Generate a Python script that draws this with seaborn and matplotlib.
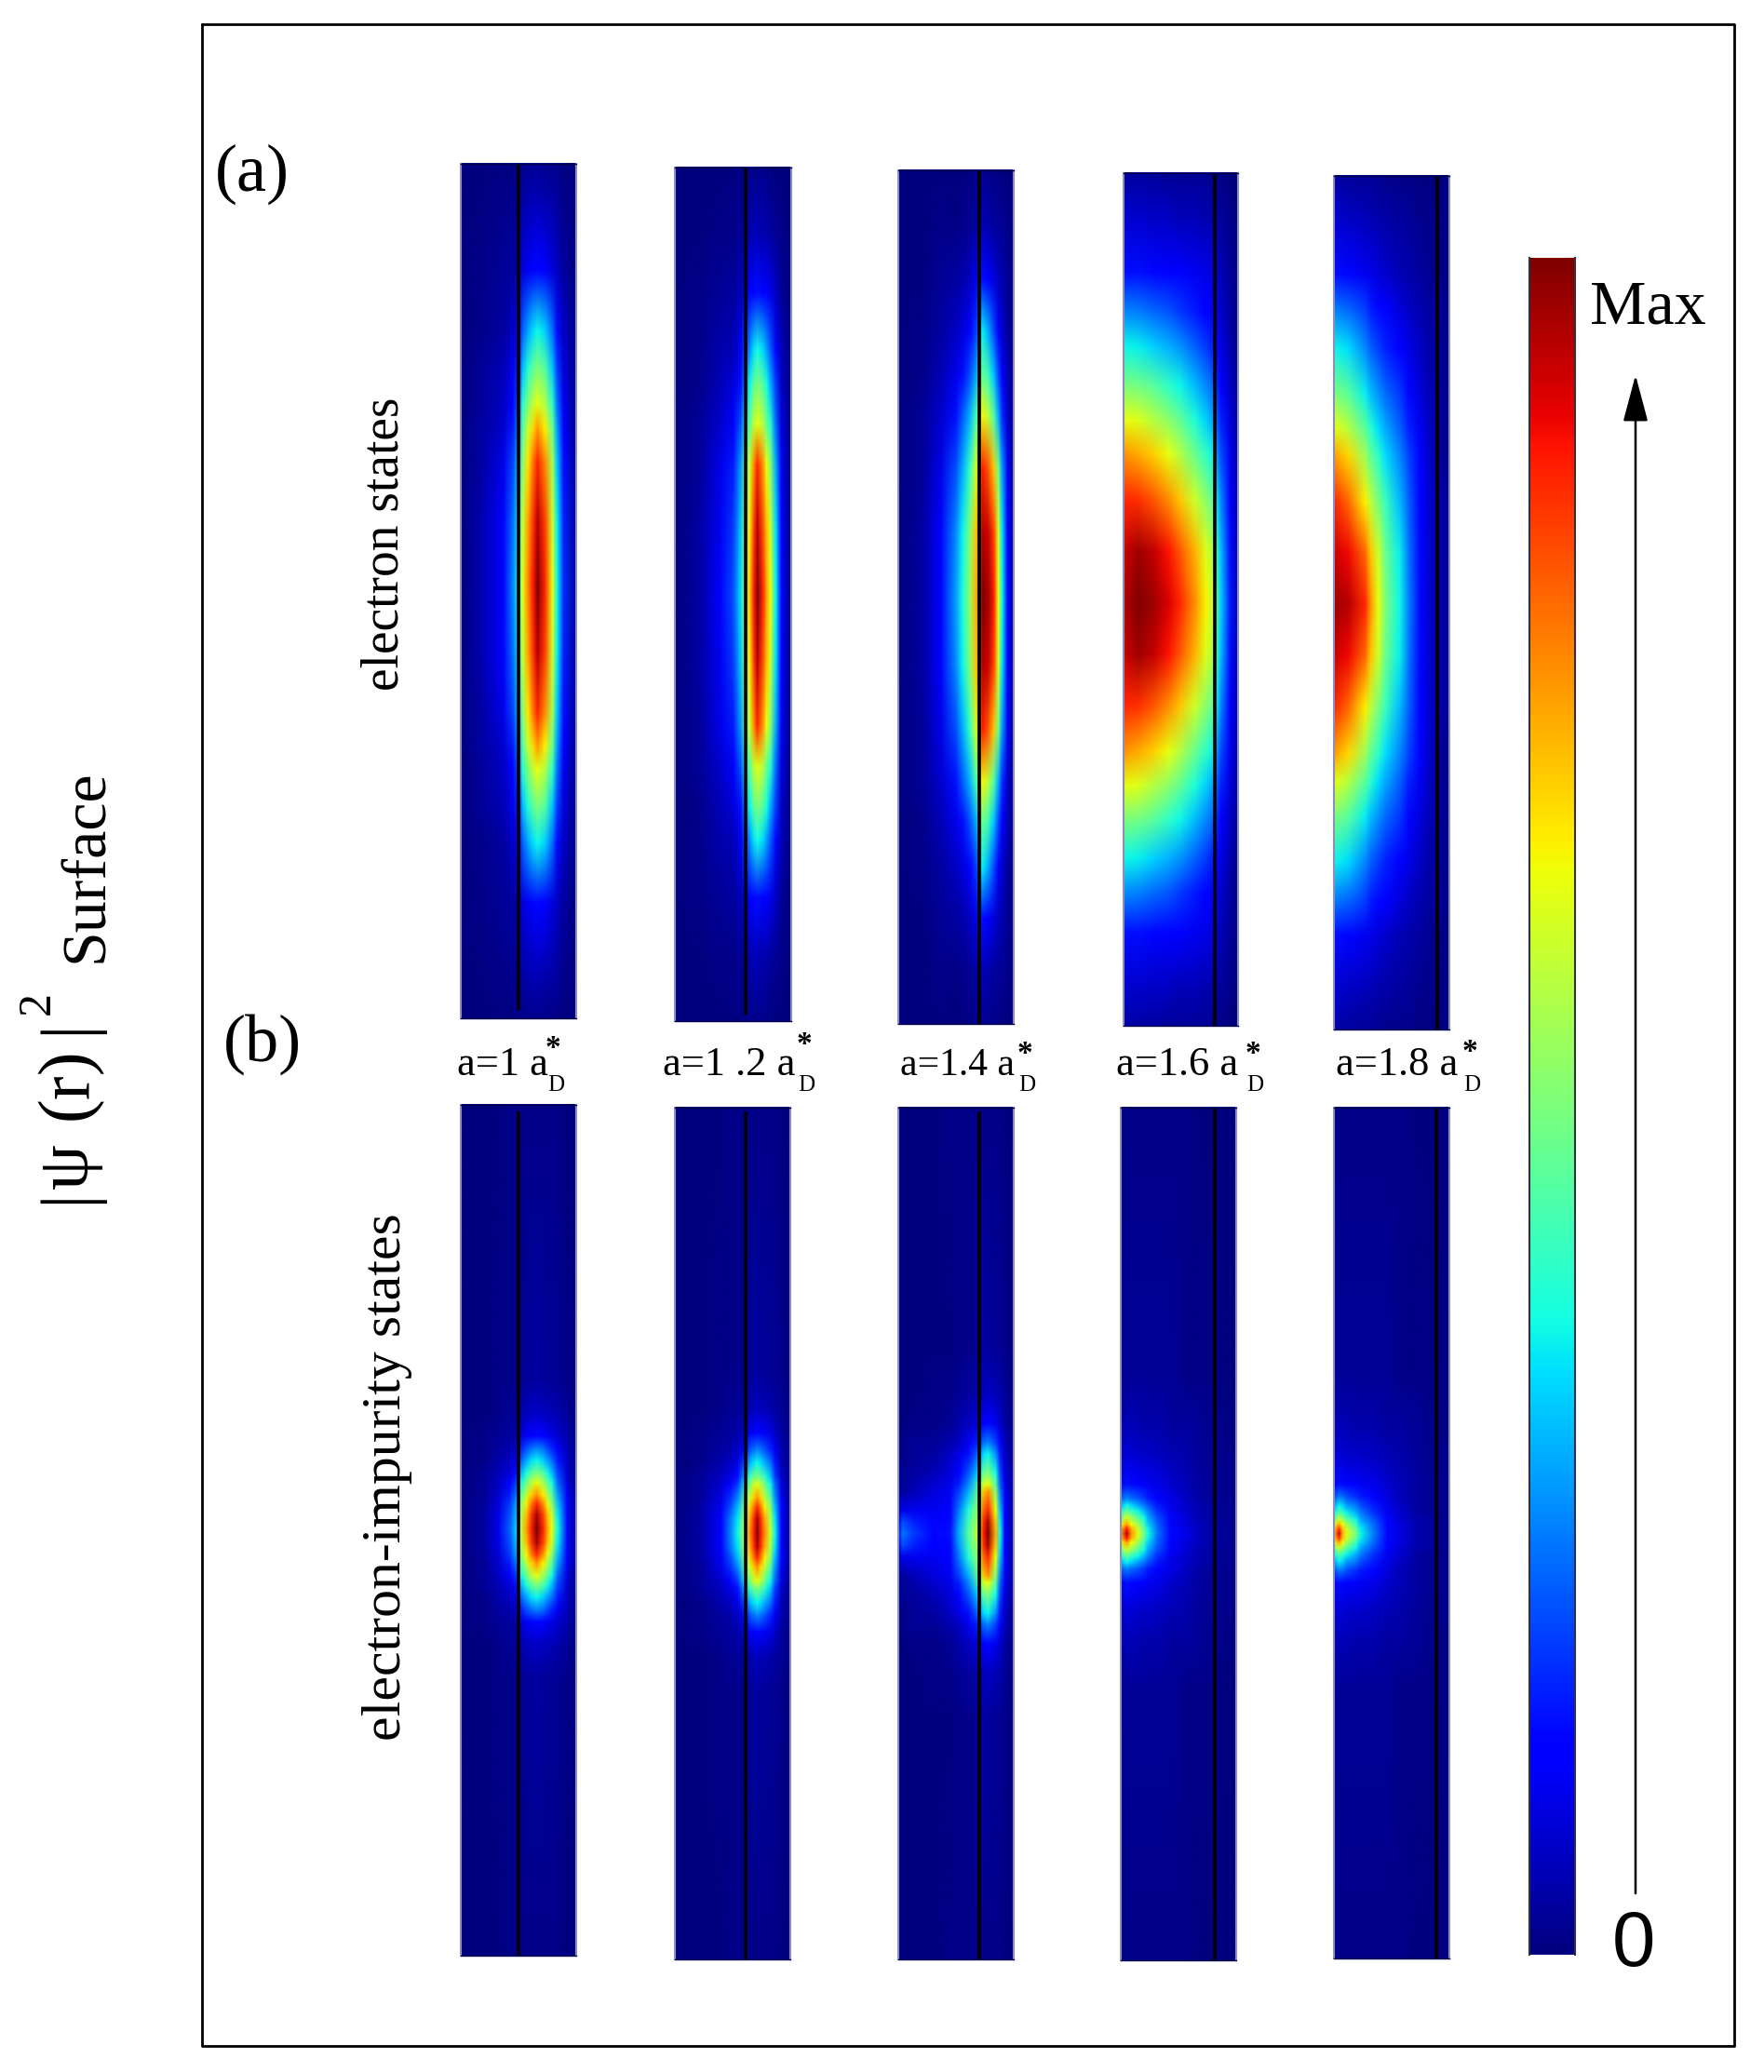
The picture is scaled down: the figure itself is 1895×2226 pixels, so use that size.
import numpy as np
import matplotlib
matplotlib.use('Agg')
import matplotlib.pyplot as plt
from matplotlib.image import NonUniformImage
from matplotlib.colors import Normalize
import seaborn as sns

sns.set_theme(style='white')
plt.rcParams['font.family'] = ['Liberation Serif', 'DejaVu Serif']
plt.rcParams['text.color'] = 'black'

W, H = 1895, 2226

# |psi|^2, 0 = bottom of colour bar, 1 = top.
# columns = pixels from left side of panel, rows = pixels from blob centre (mirrored up/down)
a1_cols = [0, 20, 45, 55, 62, 66, 72, 77, 82, 90, 98, 103, 110, 124]
a1_rows = [0, 70, 135, 170, 196, 235, 275, 340, 430, 470]
a1_vals = [
    [.00, .04, .12, .25, .38, .63, .77, .88, 1.0, .87, .63, .37, .17, .02],
    [.00, .04, .11, .23, .36, .60, .74, .85, .95, .84, .60, .36, .16, .02],
    [.00, .03, .09, .19, .31, .52, .67, .78, .87, .76, .55, .32, .14, .02],
    [.00, .03, .07, .15, .26, .46, .59, .68, .75, .66, .48, .28, .12, .01],
    [.00, .02, .06, .12, .22, .40, .51, .58, .63, .56, .41, .24, .10, .01],
    [.00, .02, .05, .09, .16, .31, .40, .46, .50, .45, .32, .19, .08, .01],
    [.00, .01, .03, .06, .11, .22, .29, .34, .37, .33, .23, .14, .06, .01],
    [.00, .01, .02, .03, .05, .08, .10, .12, .13, .11, .08, .06, .03, .00],
    [.00, .00, .01, .01, .02, .03, .03, .04, .04, .03, .03, .02, .01, .00],
    [.00, .00, .00, .00, .01, .01, .01, .01, .01, .01, .01, .00, .00, .00],
]

a2_cols = [0, 25, 48, 62, 70, 76, 80, 84, 88, 94, 98, 102, 108, 114, 124]
a2_rows = [0, 70, 140, 184, 227, 263, 325, 390, 440, 465]
a2_vals = [
    [.00, .03, .11, .20, .34, .58, .70, .87, 1.0, .87, .74, .63, .36, .13, .01],
    [.00, .03, .10, .18, .32, .55, .67, .83, .95, .83, .71, .60, .34, .12, .01],
    [.00, .02, .09, .15, .27, .48, .60, .75, .87, .75, .63, .52, .29, .10, .01],
    [.00, .02, .07, .11, .20, .37, .47, .57, .63, .57, .48, .40, .23, .08, .01],
    [.00, .01, .05, .08, .14, .28, .37, .45, .50, .45, .38, .30, .18, .06, .01],
    [.00, .01, .04, .05, .10, .20, .27, .34, .38, .34, .28, .22, .13, .05, .01],
    [.00, .01, .02, .03, .05, .09, .11, .13, .14, .12, .11, .09, .06, .02, .00],
    [.00, .00, .01, .01, .02, .03, .04, .05, .05, .04, .04, .03, .02, .01, .00],
    [.00, .00, .00, .01, .01, .01, .02, .02, .02, .02, .02, .01, .01, .00, .00],
    [.00, .00, .00, .00, .00, .01, .01, .01, .01, .01, .01, .00, .00, .00, .00],
]

a3_cols = [0, 25, 45, 61, 69, 76, 83, 90, 96, 102, 107, 111, 117, 124]
a3_rows = [0, 70, 140, 196, 240, 288, 343, 400, 460]
a3_vals = [
    [.00, .03, .12, .28, .39, .52, .72, 1.0, .97, .88, .63, .37, .13, .02],
    [.00, .03, .11, .26, .37, .50, .70, .96, .93, .84, .61, .35, .12, .02],
    [.00, .02, .09, .20, .30, .41, .60, .88, .82, .70, .49, .28, .10, .01],
    [.00, .02, .07, .14, .22, .30, .43, .65, .58, .46, .30, .17, .07, .01],
    [.00, .01, .05, .09, .14, .20, .29, .48, .42, .32, .20, .11, .05, .01],
    [.00, .01, .03, .06, .08, .12, .18, .36, .29, .20, .12, .07, .03, .00],
    [.00, .00, .02, .03, .04, .06, .09, .14, .11, .08, .06, .04, .02, .00],
    [.00, .00, .01, .01, .01, .02, .03, .05, .04, .03, .02, .02, .01, .00],
    [.00, .00, .00, .00, .00, .01, .01, .02, .01, .01, .01, .00, .00, .00],
]

a4_cols = [0, 15, 32, 48, 60, 76, 88, 97, 99, 104, 114, 124]
a4_rows = [0, 55, 110, 160, 196, 233, 275, 312, 355, 416, 460]
a4_vals = [
    [.95, 1.0, .97, .92, .87, .76, .65, .58, .46, .33, .15, .03],
    [.93, .97, .94, .89, .82, .72, .62, .55, .43, .31, .14, .03],
    [.87, .86, .82, .76, .70, .60, .52, .46, .36, .26, .12, .03],
    [.75, .73, .69, .63, .57, .48, .41, .36, .28, .20, .10, .02],
    [.63, .62, .57, .52, .47, .39, .33, .28, .22, .16, .08, .02],
    [.50, .49, .46, .41, .37, .31, .26, .22, .17, .12, .06, .02],
    [.37, .36, .33, .30, .27, .22, .18, .15, .12, .09, .04, .01],
    [.26, .25, .23, .21, .18, .15, .12, .11, .09, .07, .03, .01],
    [.14, .14, .13, .12, .11, .10, .09, .08, .07, .05, .02, .01],
    [.07, .07, .06, .06, .05, .05, .04, .04, .03, .03, .01, .00],
    [.03, .03, .03, .02, .02, .02, .02, .01, .01, .01, .00, .00],
]

a5_cols = [0, 15, 33, 39, 47, 55, 70, 80, 92, 110, 124]
a5_rows = [0, 55, 110, 160, 190, 227, 275, 320, 355, 430, 460]
a5_vals = [
    [.97, .95, .87, .75, .63, .50, .37, .25, .13, .04, .02],
    [.93, .90, .80, .70, .60, .48, .36, .24, .13, .04, .02],
    [.87, .80, .66, .58, .50, .42, .31, .22, .12, .04, .02],
    [.74, .68, .54, .47, .41, .34, .26, .19, .11, .03, .01],
    [.63, .57, .46, .40, .34, .29, .22, .16, .10, .03, .01],
    [.50, .46, .36, .31, .27, .23, .18, .13, .08, .03, .01],
    [.37, .34, .26, .22, .19, .16, .12, .09, .06, .02, .01],
    [.24, .22, .18, .15, .13, .11, .08, .06, .04, .02, .01],
    [.14, .13, .10, .09, .08, .07, .05, .04, .03, .01, .00],
    [.06, .05, .04, .04, .03, .03, .02, .02, .01, .01, .00],
    [.03, .03, .02, .02, .02, .01, .01, .01, .00, .00, .00],
]

b1_cols = [0, 25, 40, 52, 60, 64, 70, 75, 81, 88, 93, 97, 104, 114, 124]
b1_rows = [0, 15, 27, 37, 50, 60, 73, 87, 100, 125, 160, 460]
b1_vals = [
    [.00, .03, .09, .22, .34, .58, .74, .87, 1.0, .87, .73, .63, .37, .13, .02],
    [.00, .03, .09, .20, .32, .56, .71, .84, .96, .84, .70, .60, .35, .12, .02],
    [.00, .03, .08, .18, .29, .51, .65, .77, .87, .76, .63, .53, .31, .11, .02],
    [.00, .02, .07, .15, .25, .45, .58, .68, .75, .66, .55, .46, .27, .10, .02],
    [.00, .02, .06, .11, .19, .37, .48, .56, .63, .55, .46, .38, .22, .08, .01],
    [.00, .02, .05, .08, .14, .30, .39, .46, .50, .45, .37, .31, .19, .07, .01],
    [.00, .01, .04, .06, .10, .22, .29, .34, .37, .33, .28, .24, .15, .06, .01],
    [.00, .01, .03, .04, .07, .15, .20, .23, .25, .23, .19, .16, .10, .05, .01],
    [.00, .01, .02, .03, .04, .08, .10, .12, .13, .12, .10, .09, .07, .04, .01],
    [.00, .00, .01, .02, .02, .04, .05, .06, .06, .06, .05, .05, .04, .02, .00],
    [.00, .00, .01, .01, .01, .02, .02, .03, .03, .03, .02, .02, .02, .01, .00],
    [.00, .00, .00, .01, .01, .01, .01, .01, .01, .01, .01, .01, .01, .00, .00],
]

b2_cols = [0, 26, 49, 59, 67, 75, 80, 84, 88, 92, 96, 102, 107, 114, 124]
b2_rows = [0, 15, 27, 37, 52, 60, 75, 90, 107, 133, 170, 460]
b2_vals = [
    [.00, .03, .12, .25, .37, .58, .76, .87, 1.0, .87, .76, .60, .37, .13, .01],
    [.00, .03, .11, .24, .35, .56, .73, .85, .96, .85, .73, .57, .35, .12, .01],
    [.00, .03, .10, .20, .31, .51, .68, .78, .87, .77, .66, .52, .31, .11, .01],
    [.00, .02, .09, .17, .26, .45, .60, .69, .75, .68, .58, .46, .27, .10, .01],
    [.00, .02, .07, .12, .18, .36, .50, .58, .63, .57, .48, .37, .23, .08, .01],
    [.00, .02, .06, .09, .14, .30, .42, .47, .50, .46, .41, .32, .19, .07, .01],
    [.00, .01, .04, .06, .09, .20, .30, .34, .37, .34, .30, .24, .15, .05, .01],
    [.00, .01, .03, .04, .06, .12, .20, .23, .25, .23, .20, .16, .10, .04, .01],
    [.00, .01, .02, .03, .04, .07, .10, .12, .13, .12, .10, .09, .06, .03, .00],
    [.00, .00, .01, .02, .02, .03, .04, .05, .06, .05, .05, .04, .03, .02, .00],
    [.00, .00, .01, .01, .01, .02, .02, .03, .03, .03, .02, .02, .02, .01, .00],
    [.00, .00, .00, .01, .01, .01, .01, .01, .01, .01, .01, .01, .01, .00, .00],
]

b3_cols = [0, 4, 16, 37, 55, 65, 75, 86, 91, 96, 104, 109, 114, 124]
b3_rows = [0, 12, 25, 45, 53, 65, 85, 98, 118, 150, 200, 460]
b3_vals = [
    [.14, .24, .18, .13, .14, .30, .45, .60, .88, 1.0, .73, .37, .13, .02],
    [.10, .20, .16, .12, .13, .28, .43, .58, .86, .96, .70, .35, .12, .02],
    [.05, .09, .10, .10, .12, .25, .39, .55, .80, .87, .63, .31, .11, .02],
    [.02, .03, .05, .08, .10, .19, .30, .48, .70, .75, .53, .25, .10, .02],
    [.01, .02, .04, .07, .09, .16, .26, .43, .60, .63, .46, .22, .09, .02],
    [.01, .02, .03, .05, .08, .13, .21, .34, .48, .50, .38, .19, .08, .02],
    [.00, .01, .02, .03, .06, .09, .14, .24, .34, .37, .27, .15, .06, .01],
    [.00, .01, .02, .02, .04, .06, .10, .16, .23, .25, .19, .11, .05, .01],
    [.00, .00, .01, .01, .02, .04, .06, .08, .11, .13, .10, .07, .03, .01],
    [.00, .00, .00, .01, .01, .02, .03, .04, .05, .06, .05, .04, .02, .00],
    [.00, .00, .00, .00, .00, .01, .01, .02, .03, .03, .02, .02, .01, .00],
    [.00, .00, .00, .00, .01, .01, .01, .01, .01, .01, .01, .01, .00, .00],
]

b4_cols = [0, 6, 11, 18, 24, 29, 39, 53, 69, 86, 124]
b4_rows = [0, 5, 10, 17, 24, 30, 38, 53, 82, 115, 170, 460]
b4_vals = [
    [.75, .95, .75, .62, .50, .37, .24, .13, .09, .05, .01],
    [.72, .88, .72, .60, .48, .36, .23, .13, .09, .05, .01],
    [.65, .73, .64, .54, .44, .33, .22, .12, .08, .05, .01],
    [.50, .60, .54, .46, .38, .29, .20, .11, .08, .04, .01],
    [.40, .47, .42, .37, .31, .25, .17, .10, .07, .04, .01],
    [.32, .37, .34, .29, .25, .21, .15, .09, .07, .04, .01],
    [.22, .25, .23, .21, .18, .15, .12, .09, .06, .03, .01],
    [.12, .14, .13, .12, .11, .10, .09, .07, .05, .03, .01],
    [.07, .08, .08, .07, .07, .07, .06, .05, .04, .02, .01],
    [.04, .05, .05, .05, .04, .04, .04, .03, .03, .02, .00],
    [.02, .02, .02, .02, .02, .02, .02, .02, .01, .01, .00],
    [.01, .01, .01, .01, .01, .01, .01, .01, .01, .00, .00],
]

b5_cols = [0, 5, 9, 13, 23, 28, 43, 57, 72, 90, 124]
b5_rows = [0, 5, 10, 15, 22, 29, 40, 53, 82, 115, 170, 460]
b5_vals = [
    [.72, .92, .72, .62, .50, .37, .24, .13, .08, .04, .01],
    [.70, .85, .70, .60, .47, .36, .23, .13, .08, .04, .01],
    [.62, .72, .63, .54, .42, .33, .22, .12, .08, .04, .01],
    [.50, .60, .54, .47, .37, .29, .20, .11, .07, .04, .01],
    [.38, .46, .42, .37, .30, .25, .17, .10, .07, .03, .01],
    [.30, .37, .34, .29, .25, .21, .15, .09, .06, .03, .01],
    [.20, .24, .23, .20, .17, .15, .12, .08, .05, .03, .01],
    [.12, .14, .13, .12, .11, .10, .09, .07, .05, .03, .01],
    [.07, .08, .08, .07, .07, .07, .06, .05, .04, .02, .01],
    [.04, .05, .05, .05, .04, .04, .04, .03, .03, .02, .00],
    [.02, .02, .02, .02, .02, .02, .02, .02, .01, .01, .00],
    [.01, .01, .01, .01, .01, .01, .01, .01, .01, .00, .00],
]

a_labels = ['a=1 a', 'a=1 .2 a', 'a=1.4 a', 'a=1.6 a', 'a=1.8 a']
cbar_levels = np.linspace(1, 0, 256)
cbar_ticks = [.177, .351, .527, .702, .876]

fig = plt.figure(figsize=(W / 100, H / 100), dpi=100)
cmap = 'jet'
norm = Normalize(0, 1)

# whole-figure axes in pixels, y down, for frame, texts and arrow
bg = fig.add_axes([0, 0, 1, 1])
bg.set_xlim(0, W)
bg.set_ylim(H, 0)
bg.axis('off')


def panel(left, right, top, bottom, centre, line_x, line_top, line_bot, cols, rows, vals):
    ax = fig.add_axes([left / W, 1 - bottom / H, (right - left) / W, (bottom - top) / H])
    rows = np.array(rows, dtype=float)
    vals = np.array(vals)
    y = np.concatenate([-rows[:0:-1], rows])
    z = np.vstack([vals[:0:-1], vals])
    im = NonUniformImage(ax, interpolation='bilinear', cmap=cmap, norm=norm,
                         extent=(0, right - left, bottom - centre, top - centre))
    im.set_data(np.array(cols, dtype=float), y, z)
    ax.add_image(im)
    ax.set_xlim(0, right - left)
    ax.set_ylim(bottom - centre, top - centre)
    ax.set_xticks([])
    ax.set_yticks([])
    ax.grid(False)
    for side in ['top', 'bottom']:
        ax.spines[side].set_color('#00004a')
        ax.spines[side].set_linewidth(1)
    for side in ['left', 'right']:
        ax.spines[side].set_color('#8e90bb')
        ax.spines[side].set_linewidth(1.5)
    # black line of the well wall
    ax.plot([line_x - left] * 2, [line_top - centre, line_bot - centre], color='black', lw=2.6,
            solid_capstyle='butt')


panel(495, 619, 176, 1094, 631, 557, 176, 1085, a1_cols, a1_rows, a1_vals)
panel(725, 850, 180, 1097, 640, 801, 180, 1090, a2_cols, a2_rows, a2_vals)
panel(965, 1089, 183, 1100, 644, 1052, 183, 1100, a3_cols, a3_rows, a3_vals)
panel(1207, 1330, 186, 1102, 648, 1305, 186, 1102, a4_cols, a4_rows, a4_vals)
panel(1433, 1557, 189, 1106, 650, 1544, 189, 1106, a5_cols, a5_rows, a5_vals)

panel(495, 619, 1187, 2101, 1643, 557, 1194, 2101, b1_cols, b1_rows, b1_vals)
panel(725, 849, 1190, 2105, 1647, 801, 1194, 2105, b2_cols, b2_rows, b2_vals)
panel(965, 1089, 1190, 2105, 1648, 1052, 1194, 2105, b3_cols, b3_rows, b3_vals)
panel(1204, 1328, 1190, 2106, 1648, 1305, 1190, 2106, b4_cols, b4_rows, b4_vals)
panel(1433, 1557, 1190, 2104, 1648, 1543, 1190, 2104, b5_cols, b5_rows, b5_vals)

# colour bar
cax = fig.add_axes([1643 / W, 1 - 2100 / H, 49 / W, 1823 / H])
sns.heatmap(cbar_levels.reshape(-1, 1), cmap=cmap, vmin=0, vmax=1, cbar=False, ax=cax,
            xticklabels=False, yticklabels=False)
cax.set_yticks([(1 - t) * 256 for t in cbar_ticks])
cax.set_yticklabels([])
cax.tick_params(axis='y', length=7, width=1.2, color='#101010', direction='in', left=True, right=True)
for side in ['left', 'right']:
    cax.spines[side].set_visible(True)
    cax.spines[side].set_color('#303040')
    cax.spines[side].set_linewidth(1.5)

# outer frame
bg.plot([217, 1863, 1863, 217, 217], [26, 26, 2198, 2198, 26], color='black', lw=2.0)

# arrow next to colour bar
bg.annotate('', xy=(1757, 403), xytext=(1757, 2034),
            arrowprops=dict(arrowstyle='-|>,head_length=0.6,head_width=0.16', color='black', lw=1.8,
                            mutation_scale=52, shrinkA=0, shrinkB=0))

bg.text(1770, 348, 'Max', fontsize=49, ha='center', va='baseline')
bg.text(1755, 2112, '0', fontsize=60, ha='center', va='baseline', family='Liberation Sans')

bg.text(231, 205, '(a)', fontsize=52, ha='left', va='baseline')
bg.text(240, 1140, '(b)', fontsize=52, ha='left', va='baseline')

bg.text(413, 584, 'electron states', fontsize=40, rotation=90, ha='center', va='center')
bg.text(416, 1587, 'electron-impurity states', fontsize=43, rotation=90, ha='center', va='center')

# y label built from pieces, baseline runs along x
rot = dict(rotation=90, rotation_mode='anchor', ha='center', va='baseline')
bg.text(110, 930, 'Surface', fontsize=49, **rot)
bg.text(93, 1285, '|', fontsize=56, **rot)
bg.text(93, 1253, '\u03c8', fontsize=56, **rot)
bg.text(93, 1164, '(r)', fontsize=56, **rot)
bg.text(93, 1103, '|', fontsize=56, **rot)
bg.text(53, 1078, '2', fontsize=36, **rot)

# a=... labels below row (a)
label_x = [491, 712, 967, 1199, 1435]
label_size = [32, 32, 30, 32, 32]
star_x = [594, 864, 1101, 1346, 1579]
star_y = [1126, 1123, 1133, 1133, 1130]
sub_x = [597, 866, 1103, 1348, 1581]
for i in range(5):
    bg.text(label_x[i], 1155, a_labels[i], fontsize=label_size[i], ha='left', va='baseline')
    bg.text(star_x[i], star_y[i], '*', fontsize=24, ha='center', va='center', weight='bold')
    bg.text(sub_x[i], 1172, 'D', fontsize=18, ha='center', va='baseline')

fig.savefig('out.png', dpi=100, facecolor='white')
